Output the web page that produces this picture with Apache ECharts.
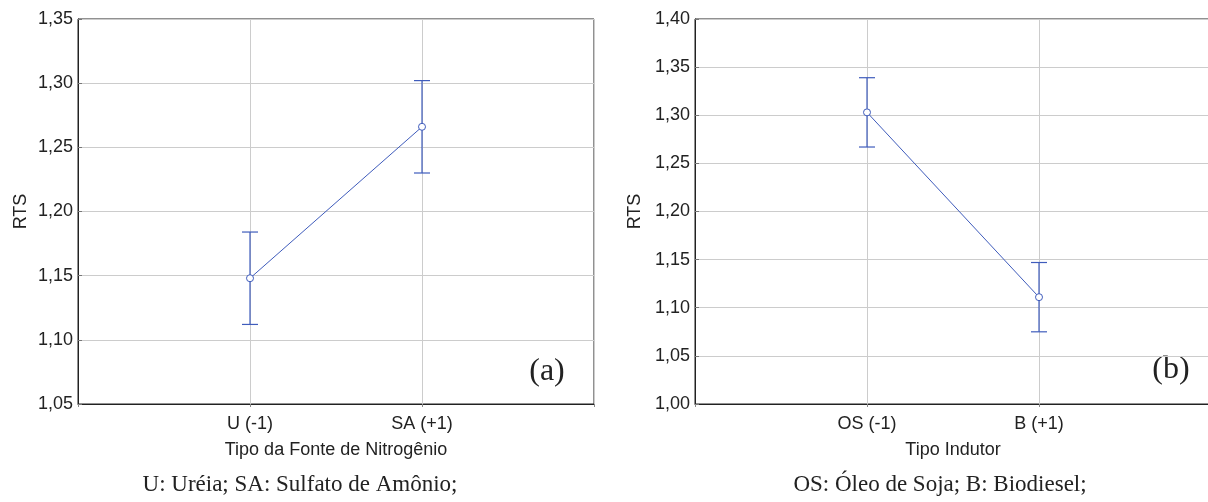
<!DOCTYPE html>
<html>
<head>
<meta charset="utf-8">
<script src="https://cdn.jsdelivr.net/npm/echarts@6/dist/echarts.min.js"></script>
<style>
  html, body { margin: 0; padding: 0; background: #fff; overflow: hidden; }
  /* the right-hand panel runs slightly past the page edge */
  #chart { width: 1216px; height: 502px; }
</style>
</head>
<body>
<div id="chart"></div>
<script>
// Panel (a): nitrogen source
const categoriesA = ['U (-1)', 'SA (+1)'];
const meanA = [1.148, 1.266];
const lowA = [1.112, 1.230];
const highA = [1.184, 1.302];

// Panel (b): inducer type
const categoriesB = ['OS (-1)', 'B (+1)'];
const meanB = [1.303, 1.111];
const lowB = [1.267, 1.075];
const highB = [1.339, 1.147];

// Axis ranges
const yRangeA = [1.05, 1.35];
const yRangeB = [1.00, 1.40];
const yStep = 0.05;

const axisNameA = 'Tipo da Fonte de Nitrogênio';
const axisNameB = 'Tipo Indutor';
const yName = 'RTS';
const captionA = 'U: Uréia; SA: Sulfato de Amônio;';
const captionB = 'OS: Óleo de Soja; B: Biodiesel;';
const panelTags = ['(a)', '(b)'];

const BLUE = '#3f5cbc';
const SANS = '"Liberation Sans", Arial, sans-serif';
const SERIF = '"Liberation Serif", "Times New Roman", serif';

const chart = echarts.init(document.getElementById('chart'), null, { renderer: 'canvas' });

// pad categories so points sit at 1/3 and 2/3 of the plot width
const padCats = c => [''].concat(c, ['']);

function xAxisFor(gridIndex, cats, name) {
  return {
    type: 'category', gridIndex, data: padCats(cats), boundaryGap: false,
    name, nameLocation: 'middle', nameGap: 37,
    nameTextStyle: { fontFamily: SANS, fontSize: 18, color: '#222' },
    axisLine: { show: true, lineStyle: { color: '#222', width: 1 } },
    axisTick: { show: true, inside: false, length: 3, lineStyle: { color: '#888' } },
    axisLabel: { interval: 0, margin: 11, fontFamily: SANS, fontSize: 18, color: '#222' },
    splitLine: { show: true, interval: 0, lineStyle: { color: '#cccccc', width: 1 } }
  };
}

function yAxisFor(gridIndex, range, gap) {
  return {
    type: 'value', gridIndex, min: range[0], max: range[1], interval: yStep,
    name: yName, nameLocation: 'middle', nameGap: gap,
    nameTextStyle: { fontFamily: SANS, fontSize: 18, color: '#222' },
    axisLine: { show: true, lineStyle: { color: '#222', width: 1 } },
    axisTick: { show: true, inside: true, length: 4, lineStyle: { color: '#777' } },
    axisLabel: {
      margin: 5, fontFamily: SANS, fontSize: 18, color: '#222',
      formatter: v => v.toFixed(2).replace('.', ',')
    },
    splitLine: { show: true, lineStyle: { color: '#cccccc', width: 1 } }
  };
}

function errorBars(axisIndex, low, high) {
  return {
    type: 'custom', xAxisIndex: axisIndex, yAxisIndex: axisIndex, z: 3,
    data: low.map((l, i) => [i + 1, l, high[i]]),
    renderItem: (params, api) => {
      const x = api.value(0);
      const lo = api.coord([x, api.value(1)]);
      const hi = api.coord([x, api.value(2)]);
      const half = 8;
      const style = { stroke: BLUE, lineWidth: 1.2 };
      return {
        type: 'group',
        children: [
          { type: 'line', shape: { x1: lo[0], y1: lo[1], x2: hi[0], y2: hi[1] }, style },
          { type: 'line', shape: { x1: lo[0] - half, y1: lo[1], x2: lo[0] + half, y2: lo[1] }, style },
          { type: 'line', shape: { x1: hi[0] - half, y1: hi[1], x2: hi[0] + half, y2: hi[1] }, style }
        ]
      };
    }
  };
}

function meanLine(axisIndex, mean) {
  return {
    type: 'line', xAxisIndex: axisIndex, yAxisIndex: axisIndex, z: 5,
    data: mean.map((m, i) => [i + 1, m]),
    symbol: 'circle', symbolSize: 7, showSymbol: true,
    lineStyle: { color: BLUE, width: 1 },
    itemStyle: { color: '#fff', borderColor: BLUE, borderWidth: 1 },
    animation: false, silent: true
  };
}

chart.setOption({
  animation: false,
  backgroundColor: '#fff',
  grid: [
    { left: 78, top: 19, width: 516, height: 385, show: true, borderColor: '#222', borderWidth: 1, backgroundColor: 'transparent' },
    { left: 695, top: 19, width: 516, height: 385, show: true, borderColor: '#222', borderWidth: 1, backgroundColor: 'transparent' }
  ],
  xAxis: [xAxisFor(0, categoriesA, axisNameA), xAxisFor(1, categoriesB, axisNameB)],
  yAxis: [yAxisFor(0, yRangeA, 48), yAxisFor(1, yRangeB, 51)],
  series: [
    errorBars(0, lowA, highA), meanLine(0, meanA),
    errorBars(1, lowB, highB), meanLine(1, meanB)
  ],
  graphic: [
    { type: 'text', x: 547, y: 372, style: { text: panelTags[0], font: '32px ' + SERIF, fill: '#222', align: 'center', verticalAlign: 'middle' } },
    { type: 'text', x: 1171, y: 370, style: { text: panelTags[1], font: '32px ' + SERIF, fill: '#222', align: 'center', verticalAlign: 'middle' } },
    { type: 'text', x: 300, y: 485, style: { text: captionA, font: '23px ' + SERIF, fill: '#222', align: 'center', verticalAlign: 'middle' } },
    { type: 'text', x: 940, y: 485, style: { text: captionB, font: '23px ' + SERIF, fill: '#222', align: 'center', verticalAlign: 'middle' } }
  ]
});
</script>
</body>
</html>
